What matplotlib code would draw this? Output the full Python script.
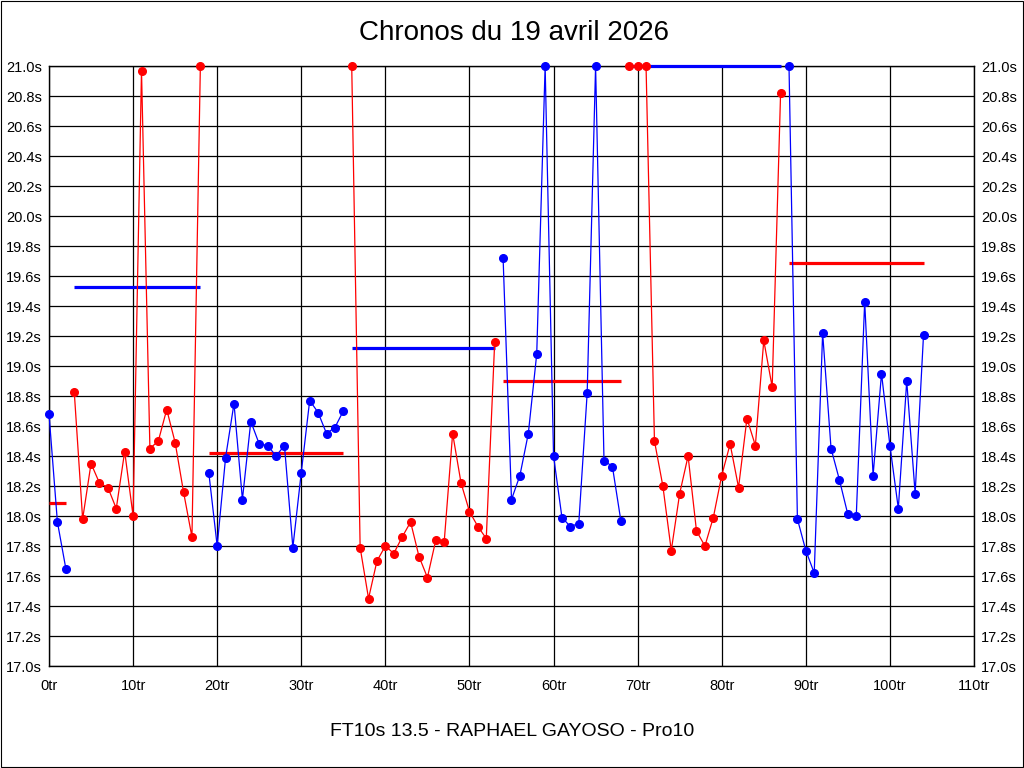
import numpy as np
import matplotlib
matplotlib.use('Agg')
import matplotlib.pyplot as plt
from matplotlib.patches import Rectangle

plt.rcParams['font.family'] = ['Liberation Sans', 'DejaVu Sans']

# lap times (s), one per lap, values above 21.0 are shown clipped at 21.0
laps = list(range(105))
times = [18.68, 17.96, 17.65,
         18.83, 17.98, 18.35, 18.22, 18.19, 18.05, 18.43, 18.00, 20.97, 18.45,
         18.50, 18.71, 18.49, 18.16, 17.86, 21.00,
         18.29, 17.80, 18.39, 18.75, 18.11, 18.63, 18.48, 18.47, 18.40, 18.47,
         17.79, 18.29, 18.77, 18.69, 18.55, 18.59, 18.70,
         21.00, 17.79, 17.45, 17.70, 17.80, 17.75, 17.86, 17.96, 17.73, 17.59,
         17.84, 17.83, 18.55, 18.22, 18.03, 17.93, 17.85, 19.16,
         19.72, 18.11, 18.27, 18.55, 19.08, 21.00, 18.40, 17.99, 17.93, 17.95,
         18.82, 21.00, 18.37, 18.33, 17.97,
         21.00, 21.00, 21.00, 18.50, 18.20, 17.77, 18.15, 18.40, 17.90, 17.80,
         17.99, 18.27, 18.48, 18.19, 18.65, 18.47, 19.17, 18.86, 20.82,
         21.00, 17.98, 17.77, 17.62, 19.22, 18.45, 18.24, 18.01, 18.00, 19.43,
         18.27, 18.95, 18.47, 18.05, 18.90, 18.15, 19.21]

# stints (first lap, last lap), colour and mean line value
stint_start = [0, 3, 19, 36, 54, 69, 88]
stint_end = [2, 18, 35, 53, 68, 87, 104]
stint_color = ['#0000ff', '#ff0000', '#0000ff', '#ff0000', '#0000ff', '#ff0000', '#0000ff']
mean_color = ['#ff0000', '#0000ff', '#ff0000', '#0000ff', '#ff0000', '#0000ff', '#ff0000']
stint_mean = [18.09, 19.53, 18.42, 19.12, 18.90, 21.00, 19.69]

title = 'Chronos du 19 avril 2026'
subtitle = 'FT10s 13.5 - RAPHAEL GAYOSO - Pro10'

fig = plt.figure(figsize=(10.24, 7.68), dpi=100)
ax = fig.add_axes([49/1024, 1-666/768, (974-49)/1024, 600/768])

laps = np.array(laps)
times = np.array(times)

for s, e, c, mc, m in zip(stint_start, stint_end, stint_color, mean_color, stint_mean):
    # mean line above the frame so the one at 21.0s shows
    ax.plot([s, e], [m, m], color=mc, lw=2.3, zorder=2.6, solid_capstyle='butt', clip_on=False)
    sel = (laps >= s) & (laps <= e)
    ax.plot(laps[sel], np.minimum(times[sel], 21.0), color=c, lw=0.9,
            marker='o', markersize=5.5, zorder=3, clip_on=False)

ax.set_xlim(0, 110)
ax.set_ylim(17.0, 21.0)
ax.set_xticks(np.arange(0, 111, 10))
ax.set_xticklabels(['%dtr' % v for v in range(0, 111, 10)])
yt = np.round(np.arange(17.0, 21.01, 0.2), 1)
ax.set_yticks(yt)
ax.set_yticklabels(['%.1fs' % v for v in yt])
ax.grid(True, color='black', lw=0.9, zorder=0)
ax.set_axisbelow(True)
ax.tick_params(axis='both', length=0, labelsize=10.5, colors='black')
ax.tick_params(axis='y', labelright=True, pad=5)
ax.tick_params(axis='x', pad=9)
for sp in ax.spines.values():
    sp.set_color('black')
    sp.set_linewidth(1)

fig.text(514/1024, 1-33/768, title, ha='center', va='center', fontsize=20)
fig.text(512/1024, 1-732/768, subtitle, ha='center', va='center', fontsize=14)

# outer border
fig.patches.append(Rectangle((0.0005, 0.0007), 0.999, 0.9986, transform=fig.transFigure,
                             fill=False, edgecolor='black', lw=0.8))

fig.savefig('out.png', dpi=100)
